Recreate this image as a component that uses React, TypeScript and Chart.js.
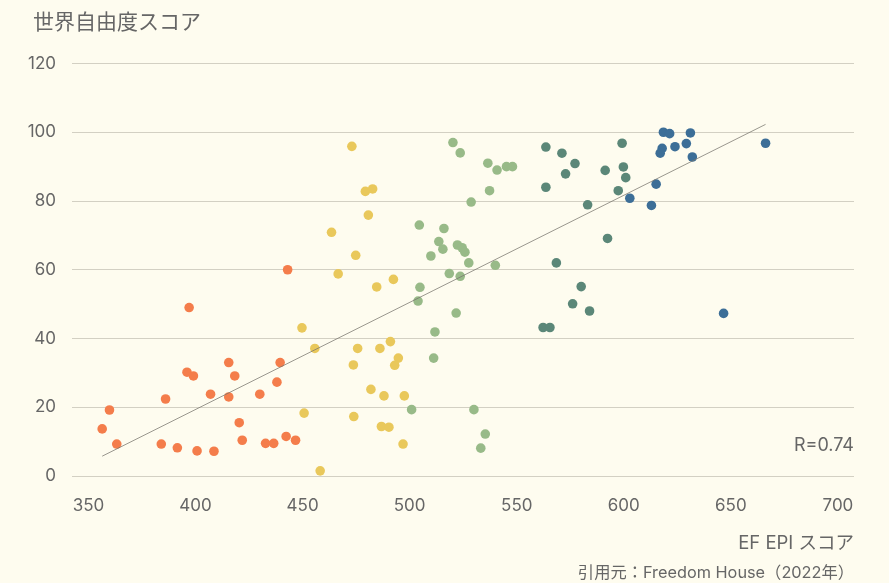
import React, { useEffect, useRef } from "react";
import { Chart, registerables } from "chart.js";

Chart.register(...registerables);

// ---- Data (EF EPI score x, Freedom score y), grouped by colour band ----
const group1X = [443, 397, 439.5, 415.5, 396, 399, 418.3, 438, 386, 407, 415.5, 430, 359.8, 356.4, 420.4, 363.2, 384, 391.5, 400.7, 408.6, 421.8, 432.7, 436.5, 442.3, 446.7];
const group1Y = [60, 49, 33, 33, 30.2, 29.1, 29.1, 27.3, 22.4, 23.8, 23, 23.8, 19.2, 13.7, 15.5, 9.3, 9.3, 8.2, 7.3, 7.2, 10.4, 9.5, 9.5, 11.5, 10.4];

const group2X = [473, 479.3, 482.7, 480.7, 463.5, 474.8, 466.6, 484.6, 492.4, 449.7, 455.7, 475.7, 486.1, 491, 473.7, 494.7, 493, 481.9, 488, 497.5, 450.7, 473.9, 486.8, 490.3, 496.9, 458.2];
const group2Y = [95.9, 82.8, 83.5, 75.9, 70.9, 64.2, 58.8, 55, 57.2, 43.1, 37.1, 37.1, 37.1, 39.1, 32.3, 34.3, 32.2, 25.2, 23.3, 23.3, 18.3, 17.3, 14.4, 14.2, 9.3, 1.5];

const group3X = [520.2, 523.6, 536.5, 540.8, 545.2, 548, 537.3, 528.7, 504.5, 516, 513.6, 515.5, 522.3, 524.5, 525.8, 509.9, 527.6, 540, 518.5, 523.6, 504.8, 503.9, 521.7, 511.8, 511.2, 500.9, 530, 535.3, 533.2];
const group3Y = [97, 94, 91, 89, 90, 90, 83, 79.7, 73, 72, 68.2, 66, 67.2, 66.4, 65.1, 64, 62, 61.3, 58.9, 58.1, 54.9, 50.9, 47.4, 41.9, 34.3, 19.3, 19.3, 12.2, 8.1];

const group4X = [563.6, 571.1, 577.2, 572.8, 563.6, 599.2, 599.8, 600.9, 591.3, 597.4, 583.1, 592.4, 568.5, 580.1, 576.1, 584, 562.3, 565.5];
const group4Y = [95.7, 93.9, 90.9, 87.9, 84, 96.8, 89.9, 86.8, 88.9, 83, 78.9, 69.1, 62, 55.1, 50.1, 48, 43.2, 43.2];

const group5X = [618.5, 621.4, 631.1, 629.2, 623.9, 617.9, 617, 632, 666.2, 615.1, 602.8, 612.9, 646.6];
const group5Y = [100, 99.6, 99.8, 96.7, 95.8, 95.3, 93.9, 92.8, 96.8, 84.9, 80.8, 78.7, 47.3];

const groupColors = ["#F47D4B", "#E9C85B", "#98BA88", "#5B8778", "#3C6E97"];

const xTicks = [350, 400, 450, 500, 550, 600, 650, 700];
const yTicks = [0, 20, 40, 60, 80, 100, 120];

const titleText = "世界自由度スコア";
const xAxisText = "EF EPI スコア";
const sourceText = "引用元：Freedom House（2022年）";
const rText = "R=0.74";

const FONT = "Inter, 'Noto Sans CJK JP', sans-serif";
const TEXT_COLOR = "#666666";
const BG = "#FEFCEF";

function pts(xs: number[], ys: number[]) {
  return xs.map((x, i) => ({ x, y: ys[i] }));
}

function regressionLine() {
  const xs = [...group1X, ...group2X, ...group3X, ...group4X, ...group5X];
  const ys = [...group1Y, ...group2Y, ...group3Y, ...group4Y, ...group5Y];
  const n = xs.length;
  const mx = xs.reduce((a, b) => a + b, 0) / n;
  const my = ys.reduce((a, b) => a + b, 0) / n;
  let sxy = 0, sxx = 0;
  for (let i = 0; i < n; i++) {
    sxy += (xs[i] - mx) * (ys[i] - my);
    sxx += (xs[i] - mx) ** 2;
  }
  const b = sxy / sxx;
  const a = my - b * mx;
  const x0 = Math.min(...xs);
  const x1 = Math.max(...xs);
  return [
    { x: x0, y: a + b * x0 },
    { x: x1, y: a + b * x1 },
  ];
}

const textPlugin = {
  id: "texts",
  afterDraw(chart: any) {
    const ctx = chart.ctx;
    const area = chart.chartArea;
    ctx.save();
    ctx.fillStyle = TEXT_COLOR;
    ctx.textBaseline = "middle";
    ctx.textAlign = "left";
    ctx.font = `21px ${FONT}`;
    ctx.fillText(titleText, 33, 23);
    ctx.textAlign = "right";
    ctx.font = `18px ${FONT}`;
    ctx.fillText(rText, area.right, 446);
    ctx.font = `18.5px ${FONT}`;
    ctx.fillText(xAxisText, area.right, 543);
    ctx.font = `16.3px ${FONT}`;
    ctx.fillText(sourceText, area.right, 573);
    ctx.restore();
  },
};

export default function App() {
  const ref = useRef<HTMLCanvasElement | null>(null);

  useEffect(() => {
    if (!ref.current) return;
    const groups = [
      pts(group1X, group1Y),
      pts(group2X, group2Y),
      pts(group3X, group3Y),
      pts(group4X, group4Y),
      pts(group5X, group5Y),
    ];
    const datasets: any[] = groups.map((data, i) => ({
      type: "scatter",
      data,
      backgroundColor: groupColors[i],
      borderWidth: 0,
      pointRadius: 4.8,
      pointHoverRadius: 4.8,
      order: 1,
    }));
    datasets.push({
      type: "line",
      data: regressionLine(),
      borderColor: "rgba(120,118,110,0.75)",
      borderWidth: 1,
      pointRadius: 0,
      fill: false,
      order: 0,
    });

    const chart = new Chart(ref.current, {
      type: "scatter",
      data: { datasets },
      options: {
        animation: false,
        responsive: false,
        devicePixelRatio: 1,
        layout: { padding: { left: 0, top: 63.5, right: 35, bottom: 0 } },
        plugins: {
          legend: { display: false },
          tooltip: { enabled: false },
          title: { display: false },
        },
        scales: {
          x: {
            type: "linear",
            min: 342.3,
            max: 707.5,
            grid: { display: false },
            border: { display: false },
            ticks: {
              color: TEXT_COLOR,
              font: { family: FONT, size: 17 },
              padding: 12,
              maxRotation: 0,
            },
            afterBuildTicks: (scale: any) => {
              scale.ticks = xTicks.map((v) => ({ value: v }));
            },
            afterFit: (scale: any) => {
              scale.height = 107;
            },
          } as any,
          y: {
            type: "linear",
            min: 0,
            max: 120,
            grid: { color: "#D3D0C3", lineWidth: 1, drawTicks: false },
            border: { display: false },
            ticks: {
              color: TEXT_COLOR,
              font: { family: FONT, size: 17 },
              padding: 16,
            },
            afterBuildTicks: (scale: any) => {
              scale.ticks = yTicks.map((v) => ({ value: v }));
            },
            afterFit: (scale: any) => {
              scale.width = 72;
            },
          } as any,
        },
      },
      plugins: [textPlugin],
    });
    return () => chart.destroy();
  }, []);

  return (
    <div
      style={{
        position: "fixed",
        left: 0,
        top: 0,
        width: 889,
        height: 583,
        background: BG,
      }}
    >
      <canvas ref={ref} width={889} height={583} style={{ display: "block", width: 889, height: 583 }} />
    </div>
  );
}
